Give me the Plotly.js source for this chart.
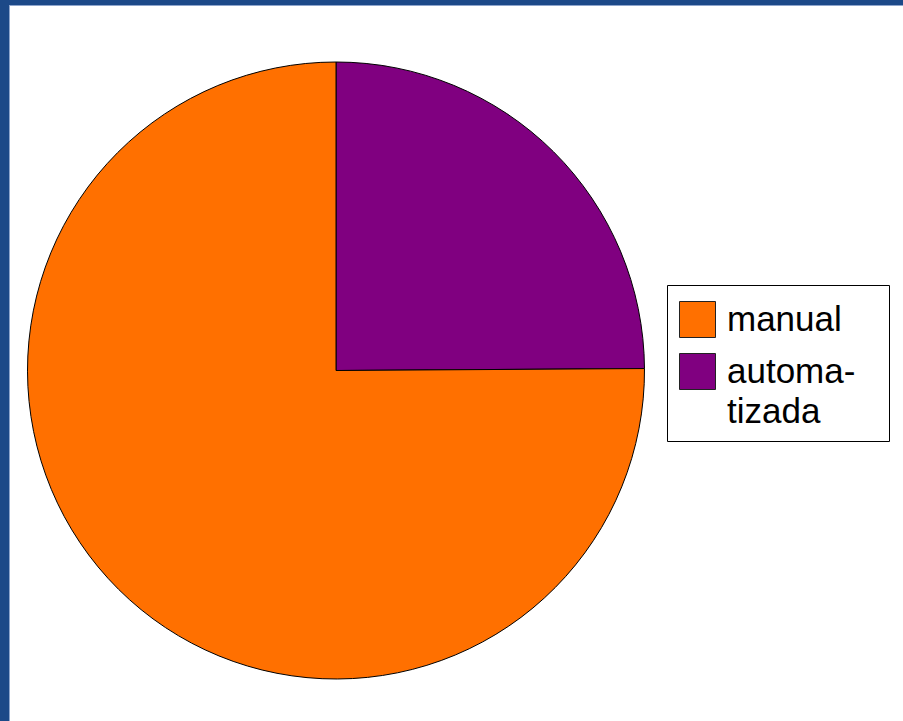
<!DOCTYPE html>
<html>
<head>
<meta charset="utf-8">
<script src="https://cdn.plot.ly/plotly-3.0.1.min.js"></script>
<style>
  html, body { margin: 0; padding: 0; }
  body { width: 903px; height: 721px; overflow: hidden; position: relative;
         background: #1c4988; }
  #frame { position: absolute; left: 9px; top: 5px; width: 894px; height: 716px;
           background: #8ea5cc; }
  #chart { position: absolute; left: 10px; top: 6px; width: 893px; height: 715px; }
</style>
</head>
<body>
<div id="frame"></div>
<div id="chart"></div>
<script>
// Data
const categories = ['automatizada', 'manual'];
const values = [24.9, 75.1];
const colors = ['#800080', '#ff7000'];
// Legend (displayed order) with line breaks as shown
const legendLabels = ['manual', 'automa-<br>tizada'];
const legendColors = ['#ff7000', '#800080'];

const W = 893, H = 715, OX = 10, OY = 6;
const px = X => (X - OX) / W;
const py = Y => 1 - (Y - OY) / H;

const cx = 336, cy = 370.5, r = 308.5;

const trace = {
  type: 'pie',
  labels: categories,
  values: values,
  marker: { colors: colors, line: { color: '#000000', width: 1 } },
  sort: false,
  direction: 'clockwise',
  rotation: 0,
  textinfo: 'none',
  hoverinfo: 'label+percent',
  showlegend: false,
  domain: { x: [px(cx - r), px(cx + r)], y: [py(cy + r), py(cy - r)] }
};

const shapes = [{
  type: 'rect', xref: 'paper', yref: 'paper',
  x0: px(667.5), x1: px(889.5), y0: py(441.5), y1: py(285.5),
  line: { color: '#000000', width: 1 }, fillcolor: 'rgba(0,0,0,0)'
}];
const annotations = [];
const swatchTops = [301.5, 353.5];
legendLabels.forEach((lab, i) => {
  const t = swatchTops[i];
  shapes.push({
    type: 'rect', xref: 'paper', yref: 'paper',
    x0: px(679.5), x1: px(715.5), y0: py(t + 36), y1: py(t),
    line: { color: '#222222', width: 1 }, fillcolor: legendColors[i]
  });
  lab.split('<br>').forEach((line, j) => {
    annotations.push({
      xref: 'paper', yref: 'paper', x: px(725), y: py(t + 17 + j * 40),
      xanchor: 'left', yanchor: 'middle', showarrow: false,
      text: line, align: 'left',
      font: { family: 'Liberation Sans, Arial, sans-serif', size: 35, color: '#000000' }
    });
  });
});

const layout = {
  width: W, height: H,
  margin: { l: 0, r: 0, t: 0, b: 0 },
  paper_bgcolor: '#ffffff',
  showlegend: false,
  shapes: shapes,
  annotations: annotations
};

Plotly.newPlot('chart', [trace], layout, { displayModeBar: false, staticPlot: true });
</script>
</body>
</html>
